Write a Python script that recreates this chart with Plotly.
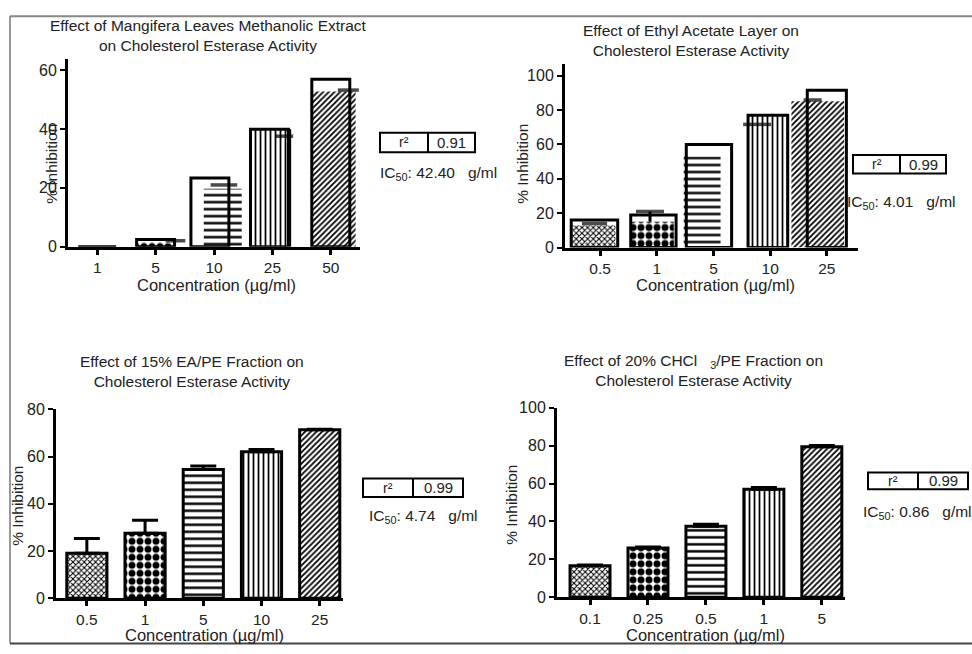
import plotly.graph_objects as go

W, H = 972, 654

# ---------------- data ----------------
p1_cats = ["1", "5", "10", "25", "50"]
p1_box = [0, 2.4, 23.4, 40, 57]
p1_fill = [0, 1.5, 19.7, 40, 52.8]
p1_cap = [None, 2, 21, 37.6, 53.3]

p2_cats = ["0.5", "1", "5", "10", "25"]
p2_box = [16, 19, 60, 77, 91.5]
p2_fill = [13, 15, 53, 77, 85]
p2_cap = [14, 21, None, 71.6, 85.8]
p2_cap_drop = [0, 6, 0, 0, 0]

p3_cats = ["0.5", "1", "5", "10", "25"]
p3_mean = [19, 27.5, 54.5, 62, 71.3]
p3_sem = [6.3, 5.5, 1.5, 1.0, 0.3]

p4_cats = ["0.1", "0.25", "0.5", "1", "5"]
p4_mean = [16.6, 26, 37.5, 57, 79.5]
p4_sem = [0.5, 0.6, 1.0, 1.0, 0.6]

r2_values = ["0.91", "0.99", "0.99", "0.99"]
ic50_values = ["42.40", "4.01", "4.74", "0.86"]

titles = [
    "Effect of Mangifera Leaves Methanolic Extract<br>on Cholesterol Esterase Activity",
    "Effect of Ethyl Acetate Layer on<br>Cholesterol Esterase Activity",
    "Effect of 15% EA/PE Fraction on<br>Cholesterol Esterase Activity",
    "Effect of 20% CHCl   <sub>3</sub>/PE Fraction on<br>Cholesterol Esterase Activity",
]
x_title = "Concentration (µg/ml)"
y_title = "% Inhibition"

# ---------------- styles ----------------
FONT = "Liberation Sans, Arial, sans-serif"
TXT = "#222222"
PAT_SHAPE = ["x", ".", "-", "|", "/"]
PAT_SIZE = [4, 8, 7, 5, 4]
PAT_SOLID = [0.45, 0.6, 0.35, 0.35, 0.45]

P1_BOX_W = [0.65, 0.65, 0.65, 0.65, 0.65]
P1_BOX_SHIFT = [0, 0, -0.07, -0.05, 0]
P1_FILL_W = [0.65, 0.65, 0.65, 0.65, 0.77]
P1_FILL_SHIFT = [0, 0, 0.15, 0, 0.04]
P1_CAP_SHIFT = [0, 0.34, 0.17, 0.2, 0.3]
P1_CAP_SIZE = [14, 14, 19, 13, 15]

P2_BOX_W = [0.82, 0.8, 0.8, 0.7, 0.69]
P2_BOX_SHIFT = [-0.1, -0.06, -0.08, -0.04, 0]
P2_FILL_W = [0.76, 0.74, 0.65, 0.7, 0.93]
P2_FILL_SHIFT = [-0.11, -0.07, -0.2, -0.04, -0.16]
P2_CAP_SHIFT = [-0.1, -0.12, 0, -0.23, -0.25]
P2_CAP_SIZE = [18, 20, 10, 20, 13]


def px(x):
    return x / W


def py(y):
    return 1 - y / H


fig = go.Figure()

idx = list(range(5))


def glitch_panel(n, box, fill, cap, box_w, box_shift, fill_w, fill_shift,
                 cap_shift, cap_size, cap_drop=None):
    xa, ya = f"x{n}", f"y{n}"
    fig.add_trace(go.Bar(
        x=idx, y=fill, width=fill_w,
        offset=[-w / 2 + s for w, s in zip(fill_w, fill_shift)],
        marker=dict(color="white", line=dict(width=0),
                    pattern=dict(shape=PAT_SHAPE, size=PAT_SIZE,
                                 solidity=PAT_SOLID, fgcolor="black",
                                 bgcolor="white", fgopacity=1)),
        xaxis=xa, yaxis=ya, showlegend=False, hoverinfo="skip"))
    fig.add_trace(go.Bar(
        x=idx, y=box, width=box_w,
        offset=[-w / 2 + s for w, s in zip(box_w, box_shift)],
        marker=dict(color="rgba(0,0,0,0)", line=dict(width=3, color="black")),
        xaxis=xa, yaxis=ya, showlegend=False, hoverinfo="skip"))
    err = None
    if cap_drop is not None:
        err = dict(type="data", symmetric=False, array=[0] * 5,
                   arrayminus=cap_drop, thickness=3, width=0, color="black")
    fig.add_trace(go.Scatter(
        x=[i + s for i, s in zip(idx, cap_shift)], y=cap, mode="markers",
        marker=dict(symbol="line-ew", size=cap_size,
                    line=dict(width=3.5, color="black")),
        error_y=err,
        xaxis=xa, yaxis=ya, showlegend=False, hoverinfo="skip"))


def clean_panel(n, mean, sem):
    xa, ya = f"x{n}", f"y{n}"
    fig.add_trace(go.Bar(
        x=idx, y=mean, width=0.69,
        marker=dict(color="white", line=dict(width=3, color="black"),
                    pattern=dict(shape=PAT_SHAPE, size=PAT_SIZE,
                                 solidity=PAT_SOLID, fgcolor="black",
                                 bgcolor="white", fgopacity=1)),
        error_y=dict(type="data", symmetric=False, array=sem,
                     arrayminus=[0] * 5, thickness=3, width=13,
                     color="black"),
        xaxis=xa, yaxis=ya, showlegend=False, hoverinfo="skip"))


glitch_panel(1, p1_box, p1_fill, p1_cap, P1_BOX_W, P1_BOX_SHIFT, P1_FILL_W,
             P1_FILL_SHIFT, P1_CAP_SHIFT, P1_CAP_SIZE)
glitch_panel(2, p2_box, p2_fill, p2_cap, P2_BOX_W, P2_BOX_SHIFT, P2_FILL_W,
             P2_FILL_SHIFT, P2_CAP_SHIFT, P2_CAP_SIZE, p2_cap_drop)
clean_panel(3, p3_mean, p3_sem)
clean_panel(4, p4_mean, p4_sem)

# axis geometry (pixels): x0, x1, ytop, ybottom, xrange, yrange, yticks
panels = [
    (p1_cats, 68, 360, 52, 245, [-0.5, 4.5], [0, 64], [0, 20, 40, 60]),
    (p2_cats, 565, 858, 57, 246, [-0.62, 4.55], [0, 107], [0, 20, 40, 60, 80, 100]),
    (p3_cats, 56, 343, 412, 606, [-0.53, 4.4], [0, 80], [0, 20, 40, 60, 80]),
    (p4_cats, 557, 845, 410.5, 605, [-0.57, 4.4], [0, 100], [0, 20, 40, 60, 80, 100]),
]

layout = dict(
    width=W, height=H, margin=dict(l=0, r=0, t=0, b=0),
    paper_bgcolor="white", plot_bgcolor="rgba(0,0,0,0)",
    barmode="overlay", font=dict(family=FONT, color=TXT, size=16),
)
for k, (cats, x0, x1, yt, yb, xr, yr, yticks) in enumerate(panels, start=1):
    sfx = "" if k == 1 else str(k)
    layout["xaxis" + sfx] = dict(
        domain=[px(x0), px(x1)], range=xr, anchor="y" + str(k),
        tickmode="array", tickvals=idx, ticktext=cats,
        showline=True, linecolor="black", linewidth=3,
        ticks="outside", ticklen=5, tickwidth=2.5, tickcolor="black",
        showgrid=False, zeroline=False, fixedrange=True,
        tickfont=dict(size=15.5, color=TXT),
    )
    layout["yaxis" + sfx] = dict(
        domain=[py(yb), py(yt)], range=yr, anchor="x" + str(k),
        tickmode="array", tickvals=yticks,
        showline=True, linecolor="black", linewidth=3,
        ticks="outside", ticklen=5, tickwidth=2, tickcolor="black",
        showgrid=False, zeroline=False, fixedrange=True,
        tickfont=dict(size=16, color=TXT),
    )
fig.update_layout(**layout)

ann = []
# titles: (center x, middle y of the two-line block)
title_pos = [(208, 28), (691, 33), (192, 373), (693, 372)]
for t, (cx, cy) in zip(titles, title_pos):
    ann.append(dict(text=t, x=px(cx), y=py(cy), xref="paper", yref="paper",
                    xanchor="center", yanchor="middle",
                    showarrow=False, font=dict(size=15.5, color=TXT)))
for cx, cy in [(216, 284), (715, 284), (204, 644), (705, 644)]:
    ann.append(dict(text=x_title, x=px(cx), y=py(cy), xref="paper",
                    yref="paper", xanchor="center", yanchor="middle",
                    showarrow=False, font=dict(size=16.5, color=TXT)))
for cx, cy in [(52, 160), (523, 160), (18, 511), (512, 510)]:
    ann.append(dict(text=y_title, x=px(cx), y=py(cy), xref="paper",
                    yref="paper", xanchor="center", yanchor="middle",
                    textangle=-90, showarrow=False,
                    font=dict(size=15.5, color=TXT)))

shapes = []
boxes = [
    ((380, 475, 428, 128, 148), (378, 170)),
    ((853, 946, 900, 151, 170), (845, 200)),
    ((363, 463, 413, 483, 502), (367, 522)),
    ((868, 968, 918, 477, 494), (861, 518)),
]
for (b, icpos), r2, ic in zip(boxes, r2_values, ic50_values):
    x0, x1, xd, yt, yb = b
    shapes.append(dict(type="rect", xref="paper", yref="paper",
                       x0=px(x0), x1=px(x1), y0=py(yb), y1=py(yt),
                       line=dict(color="black", width=2)))
    shapes.append(dict(type="line", xref="paper", yref="paper",
                       x0=px(xd), x1=px(xd), y0=py(yb), y1=py(yt),
                       line=dict(color="black", width=2)))
    ann.append(dict(text="r²", x=px((x0 + xd) / 2), y=py((yt + yb) / 2),
                    xref="paper", yref="paper", xanchor="center",
                    yanchor="middle", showarrow=False,
                    font=dict(size=14, color=TXT)))
    ann.append(dict(text=r2, x=px((xd + x1) / 2), y=py((yt + yb) / 2),
                    xref="paper", yref="paper", xanchor="center",
                    yanchor="middle", showarrow=False,
                    font=dict(size=15, color=TXT)))
    ann.append(dict(text=f"IC<sub>50</sub>: {ic}   g/ml", x=px(icpos[0]),
                    y=py(icpos[1]), xref="paper", yref="paper",
                    xanchor="left", yanchor="middle", showarrow=False,
                    font=dict(size=15.5, color=TXT)))

# outer scan border
shapes.append(dict(type="line", xref="paper", yref="paper", x0=px(10), x1=1,
                   y0=py(8.5), y1=py(8.5), line=dict(color="#888", width=2)))
shapes.append(dict(type="line", xref="paper", yref="paper", x0=px(10), x1=px(10),
                   y0=py(8.5), y1=py(652.5), line=dict(color="#777", width=1.5)))
shapes.append(dict(type="line", xref="paper", yref="paper", x0=px(10), x1=1,
                   y0=py(652.5), y1=py(652.5), line=dict(color="#444", width=2)))

fig.update_layout(annotations=ann, shapes=shapes)
fig.write_html("out.html")
